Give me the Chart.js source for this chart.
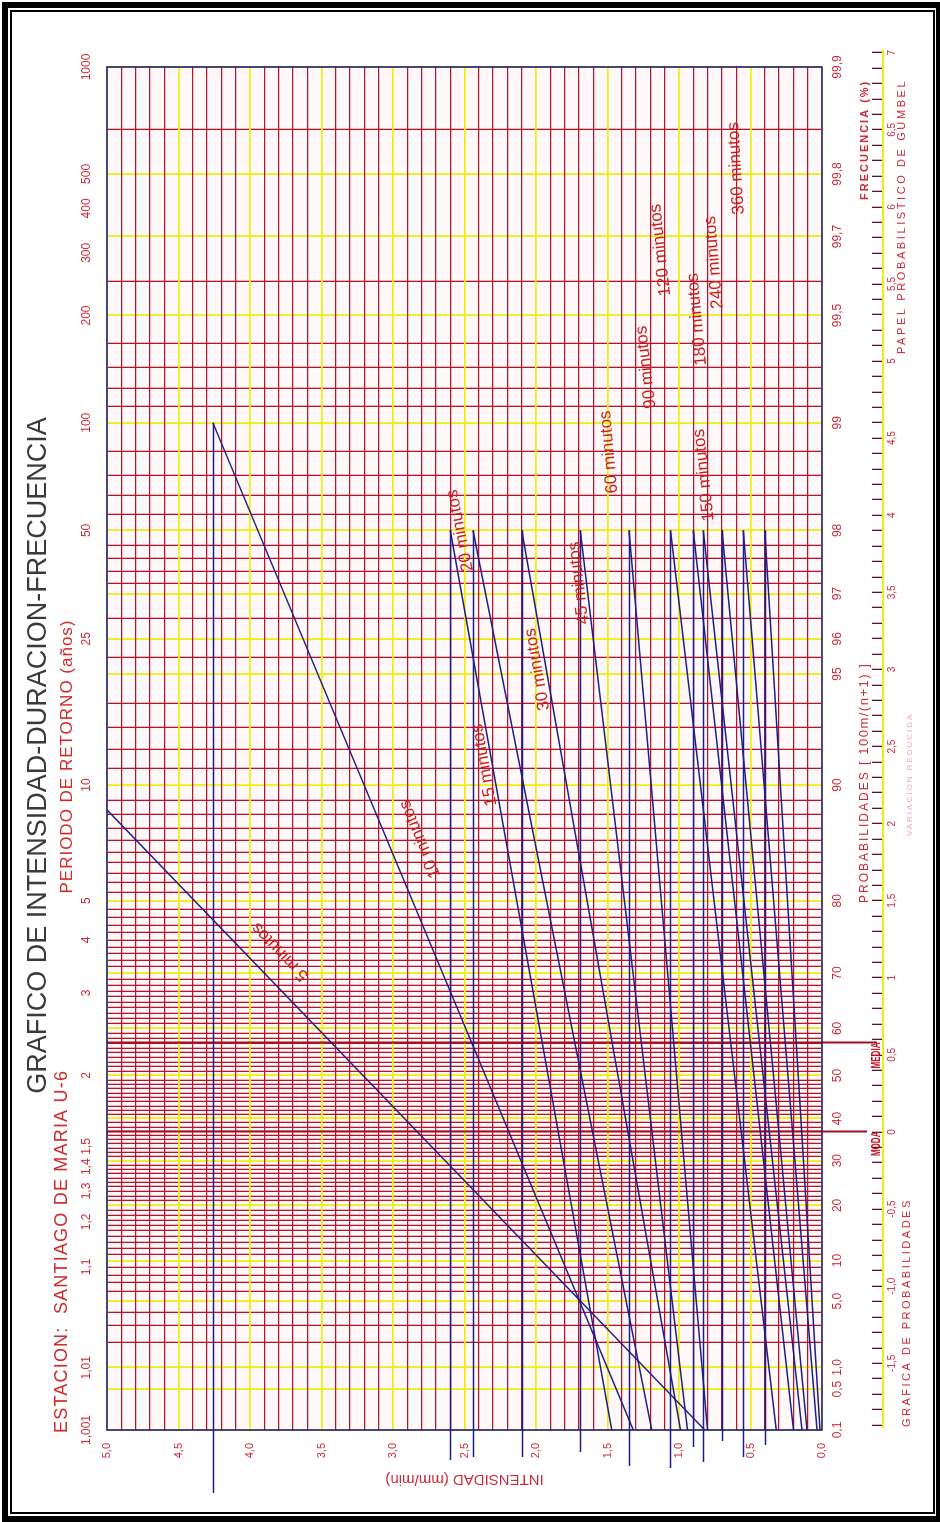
<!DOCTYPE html>
<html>
<head>
<meta charset="utf-8">
<title>Gráfico de intensidad-duración-frecuencia</title>
<script src="https://cdn.jsdelivr.net/npm/chart.js@4.4.1/dist/chart.umd.min.js"></script>
<style>
  html, body { margin:0; padding:0; background:#fff; }
  #page { position:relative; width:940px; height:1522px; overflow:hidden; background:#fff; }
  #rot { position:absolute; left:0; top:0; width:1522px; height:940px; transform-origin:0 0; transform:translate(0px,1522px) rotate(-90deg); }
  #rot canvas { display:block; }
  #outer { position:absolute; left:2px; top:2px; width:928px; height:1508px; border-style:solid; border-color:#000; border-width:6px 4px 6px 6px; }
  #inner { position:absolute; left:10px; top:10px; width:921px; height:1500px; border:2px solid #000; }
</style>
</head>
<body>
<div id="page">
  <div id="rot"><canvas id="c" width="1522" height="940"></canvas></div>
  <div id="outer"></div>
  <div id="inner"></div>
</div>
<script>
// ---------------- DATA ----------------
const durations = ['5 minutos','10 minutos','15 minutos','20 minutos','30 minutos','45 minutos','60 minutos','90 minutos','120 minutos','150 minutos','180 minutos','240 minutos','360 minutos'];
// intensity (mm/min) at return period 1.001 years (bottom of the paper)
const intensityAtTr1001 = [0.82, 1.32, 1.47, 1.19, 0.99, 0.94, 0.80, 0.32, 0.20, 0.14, 0.105, 0.035, 0.014];
// return period (years) where each line ends, and intensity there
const topReturnPeriod = [100, 100, 50, 50, 50, 50, 50, 50, 50, 50, 50, 50, 50];
const intensityAtTop   = [7.61, 4.26, 2.60, 2.44, 2.10, 1.69, 1.35, 1.06, 0.90, 0.83, 0.70, 0.55, 0.40];

// probability grid (%): labelled lines and intermediate lines
const probLabels    = [0.1, 0.5, 1, 5, 10, 20, 30, 40, 50, 60, 70, 80, 90, 95, 96, 97, 98, 99, 99.5, 99.7, 99.8, 99.9];
const probLabelText = ['0,1','0,5','1,0','5,0','10','20','30','40','50','60','70','80','90','95','96','97','98','99','99,5','99,7','99,8','99,9'];
const probMinor = [2,3,4,6,7,8,9,11,12,13,14,15,16,17,18,19,21,22,23,24,25,26,27,28,29,31,32,33,34,35,36,37,38,39,
  41,42,43,44,45,46,47,48,49,51,52,53,54,55,56,57,58,59,61,62,63,64,65,66,67,68,69,71,72,73,74,75,76,77,78,79,
  81,82,83,84,85,86,87,88,89,91,92,93,94,95.5,96.5,97.2,97.4,97.6,97.8,98.2,98.4,98.6,98.8,99.1,99.2,99.3,99.4,99.6,99.85];

// return period labels (years)
const returnPeriods    = [1.001, 1.01, 1.1, 1.2, 1.3, 1.4, 1.5, 2, 3, 4, 5, 10, 25, 50, 100, 200, 300, 400, 500, 1000];
const returnPeriodText = ['1,001','1,01','1,1','1,2','1,3','1,4','1,5','2','3','4','5','10','25','50','100','200','300','400','500','1000'];

// Gumbel reduced variate labels
const gumbelLabelValues = [-1.5,-1,-0.5,0,0.5,1,1.5,2,2.5,3,3.5,4,4.5,5,5.5,6,6.5,7];
const gumbelLabelText   = ['-1,5','-1,0','-0,5','0','0,5','1','1,5','2','2,5','3','3,5','4','4,5','5','5,5','6','6,5','7'];

// intensity tick labels
const intensityLabelValues = [0,0.5,1,1.5,2,2.5,3,3.5,4,4.5,5];
const intensityLabelText   = ['0,0','0,5','1,0','1,5','2,0','2,5','3,0','3,5','4,0','4,5','5,0'];

// label anchors for each duration (reduced variate, intensity)
const labelAnchorV = [1.17, 1.90, 2.38, 3.90, 3.00, 3.56, 4.41, 4.96, 5.72, 4.26, 5.27, 5.64, 6.25];
const labelAnchorI = [3.79, 2.81, 2.36, 2.53, 1.99, 1.70, 1.49, 1.23, 1.13, 0.825, 0.874, 0.755, 0.60];

// ---------------- STYLE ----------------
const dropLength = [63, 63, 30, 27, 27, 22, 36, 38, 17, 32, 11, 27, 15];
const RED = '#cc2a36', GRID_RED = '#b5142c', YELLOW = '#eeee10', NAVY = '#1e1e86';
const FONT = "'Liberation Sans', Arial, sans-serif";
Chart.defaults.font.family = FONT;

// ---------------- SCALE HELPERS ----------------
const gumbel = p => -Math.log(-Math.log(p / 100));
const fromReturn = T => -Math.log(-Math.log(1 - 1 / T));
const V_MIN = gumbel(0.1), V_MAX = gumbel(99.9);
const MEDIA_V = 0.5772, MODA_V = 0;

const gridProbs = probLabels.concat(probMinor).sort((a, b) => a - b);
const isLabelledProb = p => probLabels.indexOf(p) >= 0;
const gumbelTicks = [];
for (let k = -19; k <= 70; k++) gumbelTicks.push(k / 10);
const near = (a, b) => Math.abs(a - b) < 1e-6;
const isHalf = v => Math.abs(v * 2 - Math.round(v * 2)) < 1e-6;

const datasets = durations.map((name, i) => ({
  label: name,
  data: [{x: fromReturn(1.001), y: intensityAtTr1001[i]}, {x: fromReturn(topReturnPeriod[i]), y: intensityAtTop[i]}],
  showLine: true, borderColor: NAVY, borderWidth: 1.5, pointRadius: 0, pointHoverRadius: 0, fill: false
}));

function text(ctx, s, x, y, font, color, align, spacing) {
  ctx.font = font; ctx.fillStyle = color; ctx.textAlign = align || 'left';
  ctx.textBaseline = 'alphabetic'; ctx.letterSpacing = (spacing || 0) + 'px';
  ctx.fillText(s, x, y);
  ctx.letterSpacing = '0px';
}

const decor = {
  id: 'decor',
  beforeDraw(chart) {
    const {ctx, chartArea: a, scales} = chart;
    ctx.save();
    ctx.fillStyle = '#ffffff'; ctx.fillRect(0, 0, chart.width, chart.height);
    ctx.fillStyle = '#fff8f8'; ctx.fillRect(a.left, a.top, a.right - a.left, a.bottom - a.top);
    const xg = scales.xg;
    const yl = xg.top + 11;
    ctx.strokeStyle = YELLOW; ctx.lineWidth = 2;
    ctx.beginPath(); ctx.moveTo(xg.getPixelForValue(V_MIN) + 2, yl); ctx.lineTo(xg.getPixelForValue(7.0) + 3, yl); ctx.stroke();
    ctx.restore();
  },
  beforeDatasetsDraw(chart) {
    const {ctx, chartArea: a, scales: {x}} = chart;
    ctx.save();
    [[MEDIA_V, 55, 'MEDIA'], [MODA_V, 45, 'MODA']].forEach(([v, ext, lab]) => {
      const px = Math.round(x.getPixelForValue(v)) + 0.5;
      ctx.strokeStyle = '#a01020'; ctx.lineWidth = 2;
      ctx.beginPath(); ctx.moveTo(px, a.top); ctx.lineTo(px, a.bottom + ext); ctx.stroke();
      ctx.save();
      ctx.translate(px, a.bottom + 58); ctx.scale(0.62, 1);
      text(ctx, lab, 0, 0, 'bold 13px ' + FONT, '#c0101e', 'right', 0);
      ctx.restore();
    });
    ctx.strokeStyle = NAVY; ctx.lineWidth = 1.6;
    ctx.strokeRect(a.left, a.top, a.right - a.left, a.bottom - a.top);
    ctx.restore();
  },
  afterDatasetsDraw(chart) {
    const {ctx, chartArea: a, scales: {x, y}} = chart;
    ctx.save();
    ctx.strokeStyle = NAVY; ctx.lineWidth = 1.5;
    durations.forEach((n, i) => {
      if (intensityAtTop[i] > 5) return;
      const px = x.getPixelForValue(fromReturn(topReturnPeriod[i]));
      const py = Math.round(y.getPixelForValue(intensityAtTop[i])) + 0.5;
      ctx.beginPath(); ctx.moveTo(px, py); ctx.lineTo(a.left - dropLength[i], py); ctx.stroke();
    });
    durations.forEach((n, i) => {
      const x0 = x.getPixelForValue(fromReturn(1.001)), y0 = y.getPixelForValue(intensityAtTr1001[i]);
      const x1 = x.getPixelForValue(fromReturn(topReturnPeriod[i])), y1 = y.getPixelForValue(intensityAtTop[i]);
      const ang = Math.atan2(y1 - y0, x1 - x0);
      ctx.save();
      ctx.translate(x.getPixelForValue(labelAnchorV[i]), y.getPixelForValue(labelAnchorI[i]));
      ctx.rotate(ang);
      ctx.font = '17px ' + FONT; ctx.fillStyle = '#c8201e'; ctx.textAlign = 'center'; ctx.textBaseline = 'middle';
      ctx.fillText(n, 0, 0);
      ctx.restore();
    });
    ctx.restore();
  },
  afterDraw(chart) {
    const {ctx, chartArea: a} = chart;
    ctx.save();
    const cx = (a.left + a.right) / 2;
    text(ctx, 'GRAFICO DE INTENSIDAD-DURACION-FRECUENCIA', cx - 7, 46, '27px ' + FONT, '#3a3a3a', 'center', 0);
    text(ctx, 'ESTACION:  SANTIAGO DE MARIA U-6', a.left - 3, 67, '18px ' + FONT, '#d02a2a', 'left', 1.2);
    text(ctx, 'PERIODO DE RETORNO (años)', cx - 8, 72, '17px ' + FONT, '#d02a2a', 'center', 1);
    text(ctx, 'PROBABILIDADES', 619, 868, '12px ' + FONT, '#cc2a36', 'left', 2);
    text(ctx, '[ 100m/(n+1) ]', 757, 868, '13px ' + FONT, '#cc2a36', 'left', 1.5);
    text(ctx, 'FRECUENCIA (%)', 1322, 868, 'bold 11px ' + FONT, '#cc2a36', 'left', 2);
    text(ctx, 'PAPEL PROBABILISTICO DE GUMBEL', 1168, 905, '11px ' + FONT, '#cc2a36', 'left', 2.6);
    text(ctx, 'GRAFICA DE PROBABILIDADES', 95, 910, '11px ' + FONT, '#cc2a36', 'left', 2.5);
    text(ctx, 'VARIACION REDUCIDA', 686, 912, '8px ' + FONT, '#f0a8b0', 'left', 2);
    ctx.restore();
  }
};

new Chart(document.getElementById('c'), {
  type: 'scatter',
  data: { datasets },
  options: {
    responsive: false, animation: false, devicePixelRatio: 1,
    layout: { padding: { left: 20, right: 67, top: 60, bottom: 28 } },
    plugins: { legend: { display: false }, tooltip: { enabled: false }, title: { display: false } },
    events: [],
    scales: {
      x: {
        type: 'linear', position: 'bottom', min: V_MIN, max: V_MAX, weight: 0,
        afterBuildTicks: s => { s.ticks = gridProbs.map(p => ({ value: gumbel(p) })); },
        afterFit: s => { s.height = 50; },
        grid: { color: c => isLabelledProb(gridProbs[c.index]) ? YELLOW : GRID_RED,
                lineWidth: c => isLabelledProb(gridProbs[c.index]) ? 1.8 : 1.3, drawTicks: false },
        border: { display: false },
        ticks: { autoSkip: false, maxRotation: 0, minRotation: 0, padding: 8, color: RED, font: { size: 12 },
                 callback: (v, i) => { const k = probLabels.indexOf(gridProbs[i]); return k >= 0 ? probLabelText[k] : ''; } }
      },
      xg: {
        type: 'linear', position: 'bottom', min: V_MIN, max: V_MAX, weight: 1,
        afterBuildTicks: s => { s.ticks = gumbelTicks.map(v => ({ value: v })); },
        afterFit: s => { s.height = 40; },
        grid: { drawOnChartArea: false, drawTicks: true, tickLength: 10, color: '#5a1520', lineWidth: 1.3 },
        border: { display: false },
        ticks: { autoSkip: false, maxRotation: 0, minRotation: 0, padding: 4, color: RED, font: { size: 10 },
                 callback: (v, i) => { const k = gumbelLabelValues.findIndex(g => near(g, gumbelTicks[i])); return k >= 0 ? gumbelLabelText[k] : ''; } }
      },
      xt: {
        type: 'linear', position: 'top', min: V_MIN, max: V_MAX,
        afterBuildTicks: s => { s.ticks = returnPeriods.map(T => ({ value: fromReturn(T) })); },
        afterFit: s => { s.height = 47; },
        grid: { display: false }, border: { display: false },
        ticks: { autoSkip: false, maxRotation: 0, minRotation: 0, padding: 5, color: RED, font: { size: 12 },
                 callback: (v, i) => returnPeriodText[i] }
      },
      y: {
        type: 'linear', position: 'left', min: 0, max: 5,
        afterFit: s => { s.width = 72; },
        grid: { color: c => isHalf(c.tick.value) ? YELLOW : GRID_RED,
                lineWidth: c => isHalf(c.tick.value) ? 1.8 : 1.3, drawTicks: false },
        border: { display: false },
        ticks: { stepSize: 0.1, autoSkip: false, padding: 13, color: RED, font: { size: 11 },
                 callback: v => { const k = intensityLabelValues.findIndex(g => near(g, v)); return k >= 0 ? intensityLabelText[k] : ''; } },
        title: { display: true, text: 'INTENSIDAD (mm/min)', color: RED, font: { size: 15 }, padding: { top: 14, bottom: 0 } }
      }
    }
  },
  plugins: [decor]
});
</script>
</body>
</html>
